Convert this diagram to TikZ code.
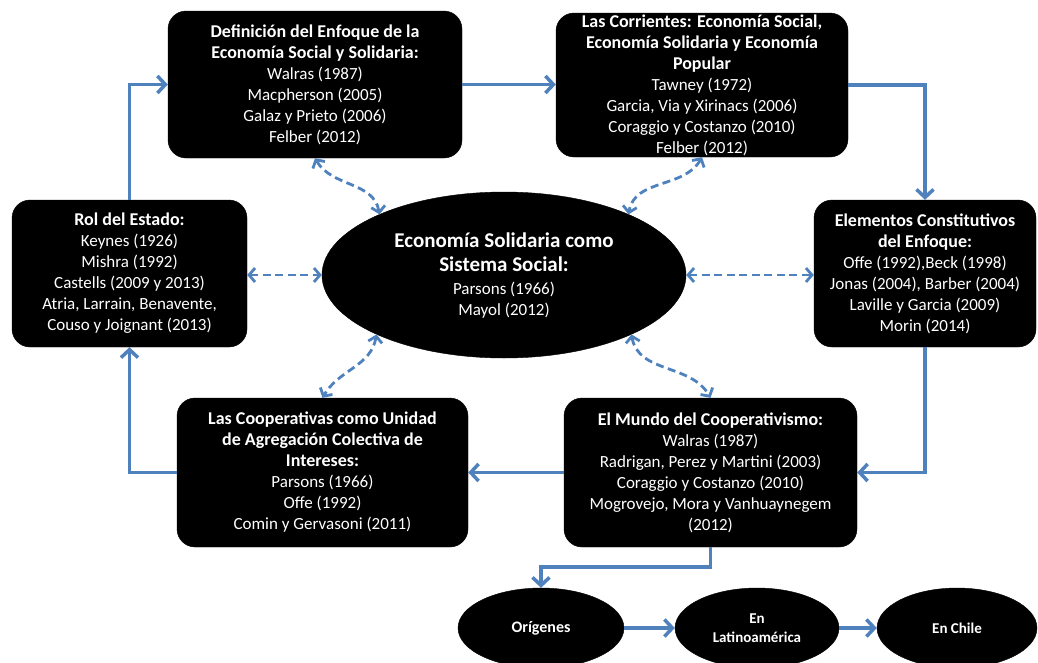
\documentclass[tikz,border=0pt]{standalone}
\usepackage{fontspec}
\setmainfont{Carlito}
\usetikzlibrary{arrows.meta,shapes.geometric}
\definecolor{blu}{HTML}{4F81BD}
\newcommand{\ttl}[1]{{\bfseries\fontsize{18}{21}\selectfont #1}}
\begin{document}
\begin{tikzpicture}[x=1pt,y=1pt,
  box/.style={rectangle, rounded corners=18pt, fill=black, draw=black, text=white, align=center, inner sep=0pt, font=\fontsize{17}{21}\selectfont},
  oval/.style={ellipse, fill=black, draw=black, text=white, align=center, inner sep=0pt},
  flow/.style={draw=blu, line width=3.5pt, -{Straight Barb[length=8pt,width=17pt]}},
  dflow/.style={draw=blu, line width=2.8pt, dash pattern=on 8pt off 4.5pt, {Straight Barb[length=6pt,width=14pt]}-{Straight Barb[length=6pt,width=14pt]}}]
\useasboundingbox (0,0) rectangle (1038,-662);
\clip (0,0) rectangle (1038,-662);

\node[box, minimum width=294pt, minimum height=147pt] (b1) at (315,-84.5)
  {\ttl{Definición del Enfoque de la}\\ \ttl{Economía Social y Solidaria:}\\ Walras (1987)\\ Macpherson (2005)\\ Galaz y Prieto (2006)\\ Felber (2012)};
\node[box, minimum width=292pt, minimum height=144pt] (b2) at (702,-85)
  {\ttl{Las Corrientes: Economía Social,}\\ \ttl{Economía Solidaria y Economía}\\ \ttl{Popular}\\ Tawney (1972)\\ Garcia, Via y Xirinacs (2006)\\ Coraggio y Costanzo (2010)\\ Felber (2012)};
\node[box, minimum width=235pt, minimum height=147pt] (b3) at (129.5,-273.5)
  {\ttl{Rol del Estado:}\\ Keynes (1926)\\ Mishra (1992)\\ Castells (2009 y 2013)\\ Atria, Larrain, Benavente,\\ Couso y Joignant (2013)};
\node[box, minimum width=222pt, minimum height=147pt] (b4) at (925,-273.5)
  {\ttl{Elementos Constitutivos}\\ \ttl{del Enfoque:}\\ Offe (1992),Beck (1998)\\ Jonas (2004), Barber (2004)\\ Laville y Garcia (2009)\\ Morin (2014)};
\node[box, minimum width=291pt, minimum height=149pt] (b5) at (322.5,-472.5)
  {\ttl{Las Cooperativas como Unidad}\\ \ttl{de Agregación Colectiva de}\\ \ttl{Intereses:}\\ Parsons (1966)\\ Offe (1992)\\ Comin y Gervasoni (2011)};
\node[box, minimum width=293pt, minimum height=149pt] (b6) at (710.5,-472.5)
  {\ttl{El Mundo del Cooperativismo:}\\ Walras (1987)\\ Radrigan, Perez y Martini (2003)\\ Coraggio y Costanzo (2010)\\ Mogrovejo, Mora y Vanhuaynegem\\ (2012)};

\node[oval, minimum width=364pt, minimum height=166pt, font=\fontsize{17}{21}\selectfont] (c) at (504,-275)
  {{\bfseries\fontsize{21}{24}\selectfont Economía Solidaria como}\\[3pt] {\bfseries\fontsize{21}{24}\selectfont Sistema Social:}\\[2pt] Parsons (1966)\\ Mayol (2012)};

\node[oval, minimum width=166pt, minimum height=80pt, font=\bfseries\fontsize{16}{19}\selectfont] (o1) at (541,-628) {Orígenes};
\node[oval, minimum width=164pt, minimum height=80pt, font=\bfseries\fontsize{15}{19}\selectfont] (o2) at (757,-628) {En\\Latinoamérica};
\node[oval, minimum width=160pt, minimum height=80pt, font=\bfseries\fontsize{15}{19}\selectfont] (o3) at (957,-628) {En Chile};

\draw[flow] (b3.north) |- (b1.west);
\draw[flow] (b1.east) -- (b1.east -| b2.west);
\draw[flow] (b2.east) -| (b4.north);
\draw[flow] (b4.south) |- (b6.east);
\draw[flow] (b6.west) -- (b5.east);
\draw[flow] (b5.west) -| (b3.south);
\draw[flow] (b6.south) -- ++(0,-20) -| (o1.north);
\draw[flow] (o1.east) -- (o2.west);
\draw[flow] (o2.east) -- (o3.west);

\draw[dflow] (b1.south) to[out=-60,in=100] (c.154);
\draw[dflow] (b2.south) to[out=-120,in=80] (c.26);
\draw[dflow] (c.west -| b3.east) -- (c.west);
\draw[dflow] (c.east) -- (c.east -| b4.west);
\draw[dflow] (c.205) to[out=-100,in=60] (b5.north);
\draw[dflow] (c.335) to[out=-80,in=120] (b6.north);
\end{tikzpicture}
\end{document}
